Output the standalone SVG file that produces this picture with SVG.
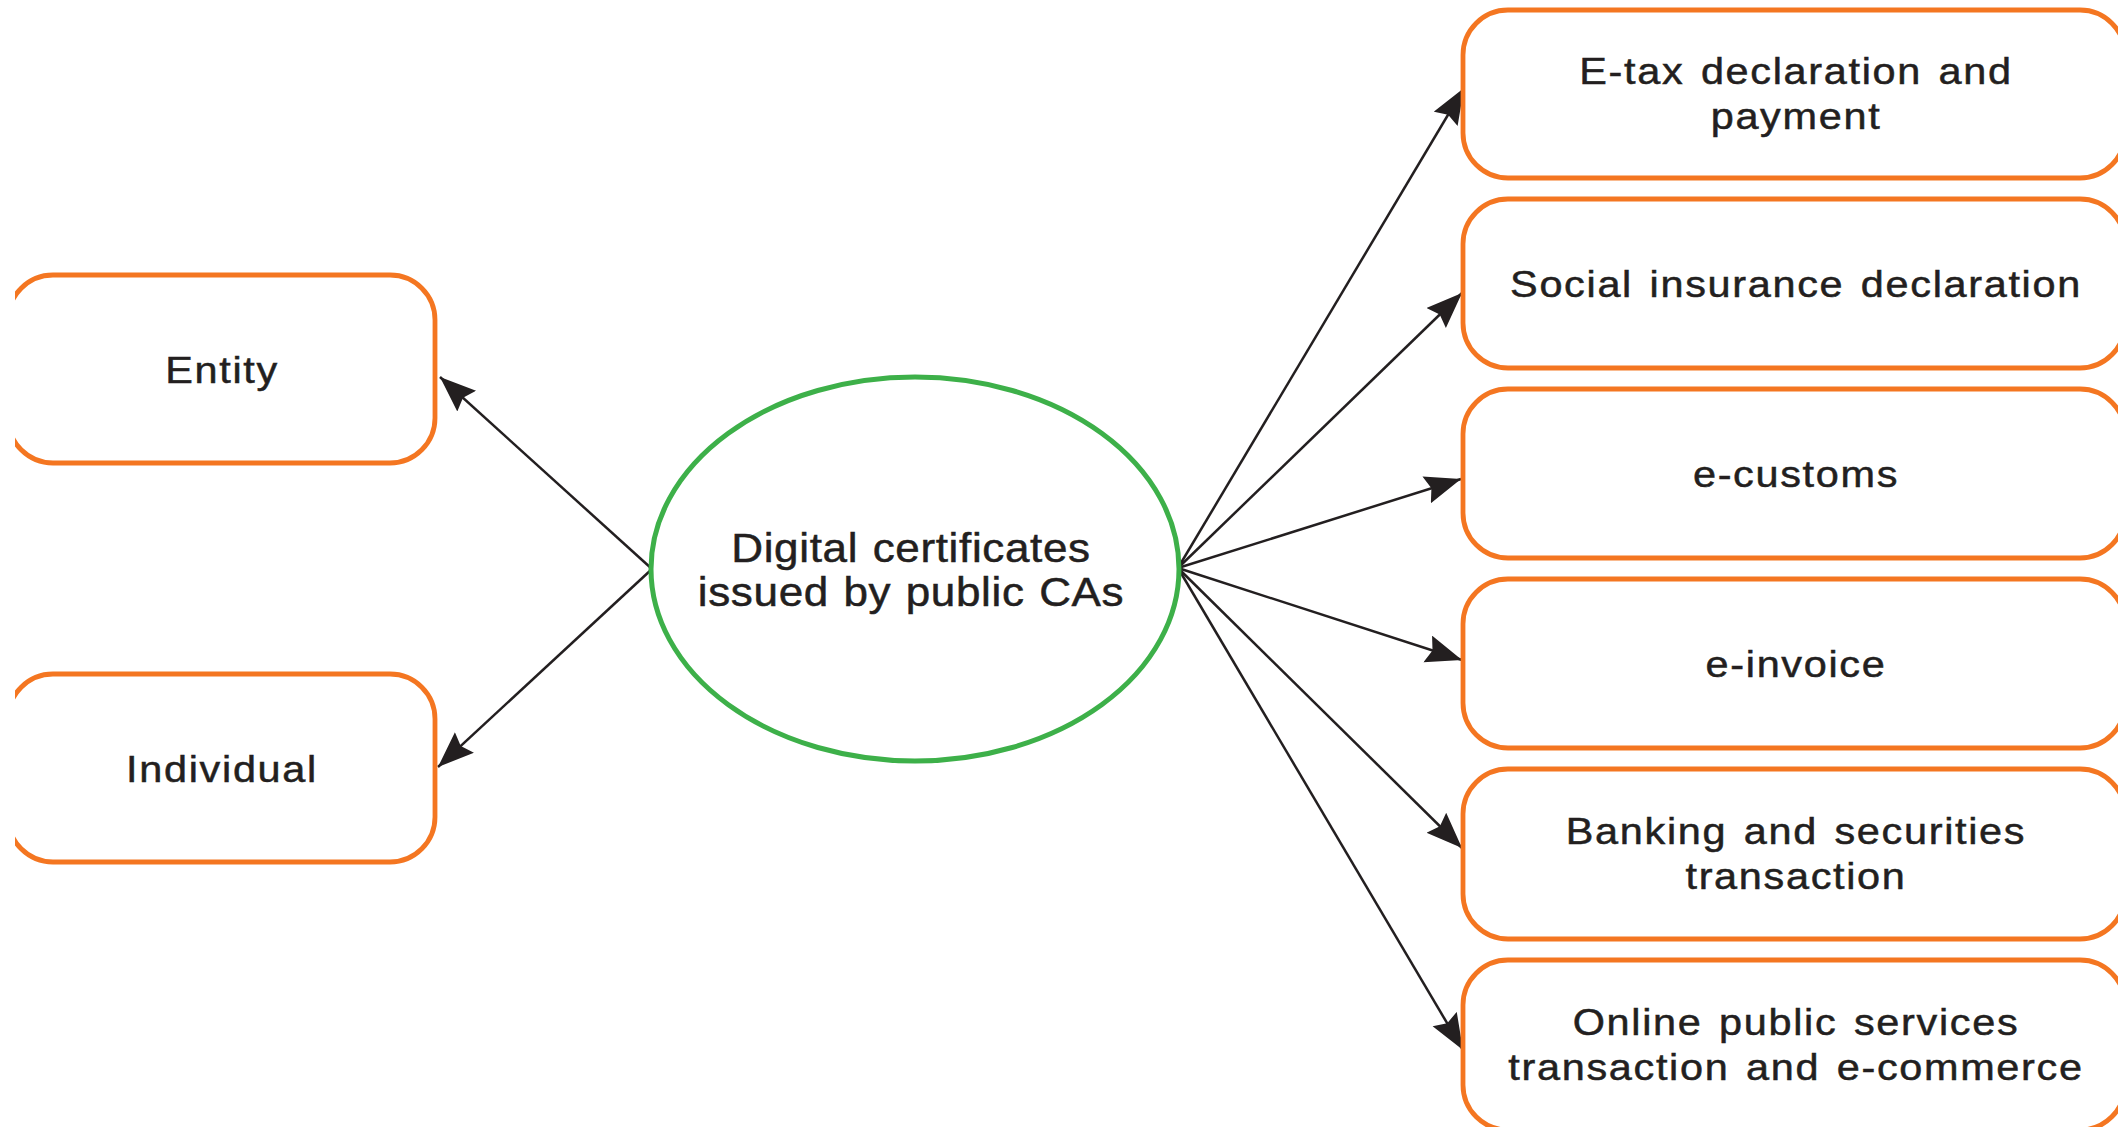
<svg xmlns="http://www.w3.org/2000/svg" width="2118" height="1127" viewBox="0 0 2118 1127">
<style>
.box{fill:#fff;stroke:#F47621;stroke-width:4.8}
.ell{fill:#fff;stroke:#3DB049;stroke-width:5}
.t{font-family:"Liberation Sans",Arial,sans-serif;font-size:37px;fill:#231F20;stroke:#231F20;stroke-width:0.5;text-anchor:middle;letter-spacing:1.5px;word-spacing:3px}
.tc{font-size:40px;letter-spacing:0.6px;word-spacing:1.5px}
.c{stroke:#231F20;stroke-width:2.5;fill:none;marker-end:url(#ah)}
</style>
<defs>
<marker id="ah" markerUnits="userSpaceOnUse" markerWidth="38" markerHeight="30" refX="36" refY="14" orient="auto" viewBox="0 0 38 30">
<path d="M0,0 L36,14 L0,28 L5,14 z" fill="#231F20"/>
</marker>
<clipPath id="lc"><rect x="15" y="0" width="2103" height="1127"/></clipPath>
</defs>
<rect width="2118" height="1127" fill="#fff"/>
<g id="connectors">
<line class="c" x1="652" y1="569" x2="440" y2="377"/>
<line class="c" x1="652" y1="569" x2="438" y2="767"/>
<line class="c" x1="1178" y1="568" x2="1464" y2="88"/>
<line class="c" x1="1178" y1="568" x2="1462" y2="293"/>
<line class="c" x1="1178" y1="568" x2="1461" y2="479"/>
<line class="c" x1="1178" y1="568" x2="1462" y2="660"/>
<line class="c" x1="1178" y1="568" x2="1462" y2="848"/>
<line class="c" x1="1178" y1="568" x2="1463" y2="1050"/>
</g>
<g id="entity" clip-path="url(#lc)">
<rect class="box" x="8" y="275" width="427" height="188" rx="45"/>
<text class="t" transform="translate(222,383) scale(1.12,1)">Entity</text>
</g>
<g id="individual" clip-path="url(#lc)">
<rect class="box" x="8" y="674" width="427" height="188" rx="45"/>
<text class="t" transform="translate(222,782) scale(1.12,1)">Individual</text>
</g>
<g id="center">
<ellipse class="ell" cx="915" cy="569" rx="264" ry="192"/>
<text class="t tc" transform="translate(911,562) scale(1.1,1)">Digital certificates</text>
<text class="t tc" transform="translate(911,606) scale(1.1,1)">issued by public CAs</text>
</g>
<g id="etax">
<rect class="box" x="1463" y="10" width="662" height="168" rx="45"/>
<text class="t" transform="translate(1796,84) scale(1.12,1)">E-tax declaration and</text>
<text class="t" transform="translate(1796,129) scale(1.12,1)">payment</text>
</g>
<g id="social">
<rect class="box" x="1463" y="199" width="662" height="169" rx="45"/>
<text class="t" transform="translate(1796,297) scale(1.12,1)">Social insurance declaration</text>
</g>
<g id="ecustoms">
<rect class="box" x="1463" y="389" width="662" height="169" rx="45"/>
<text class="t" transform="translate(1796,487) scale(1.12,1)">e-customs</text>
</g>
<g id="einvoice">
<rect class="box" x="1463" y="579" width="662" height="169" rx="45"/>
<text class="t" transform="translate(1796,677) scale(1.12,1)">e-invoice</text>
</g>
<g id="banking">
<rect class="box" x="1463" y="769" width="662" height="170" rx="45"/>
<text class="t" transform="translate(1796,844) scale(1.12,1)">Banking and securities</text>
<text class="t" transform="translate(1796,889) scale(1.12,1)">transaction</text>
</g>
<g id="online">
<rect class="box" x="1463" y="960" width="662" height="170" rx="45"/>
<text class="t" transform="translate(1796,1035) scale(1.12,1)">Online public services</text>
<text class="t" transform="translate(1796,1080) scale(1.12,1)">transaction and e-commerce</text>
</g>
</svg>
